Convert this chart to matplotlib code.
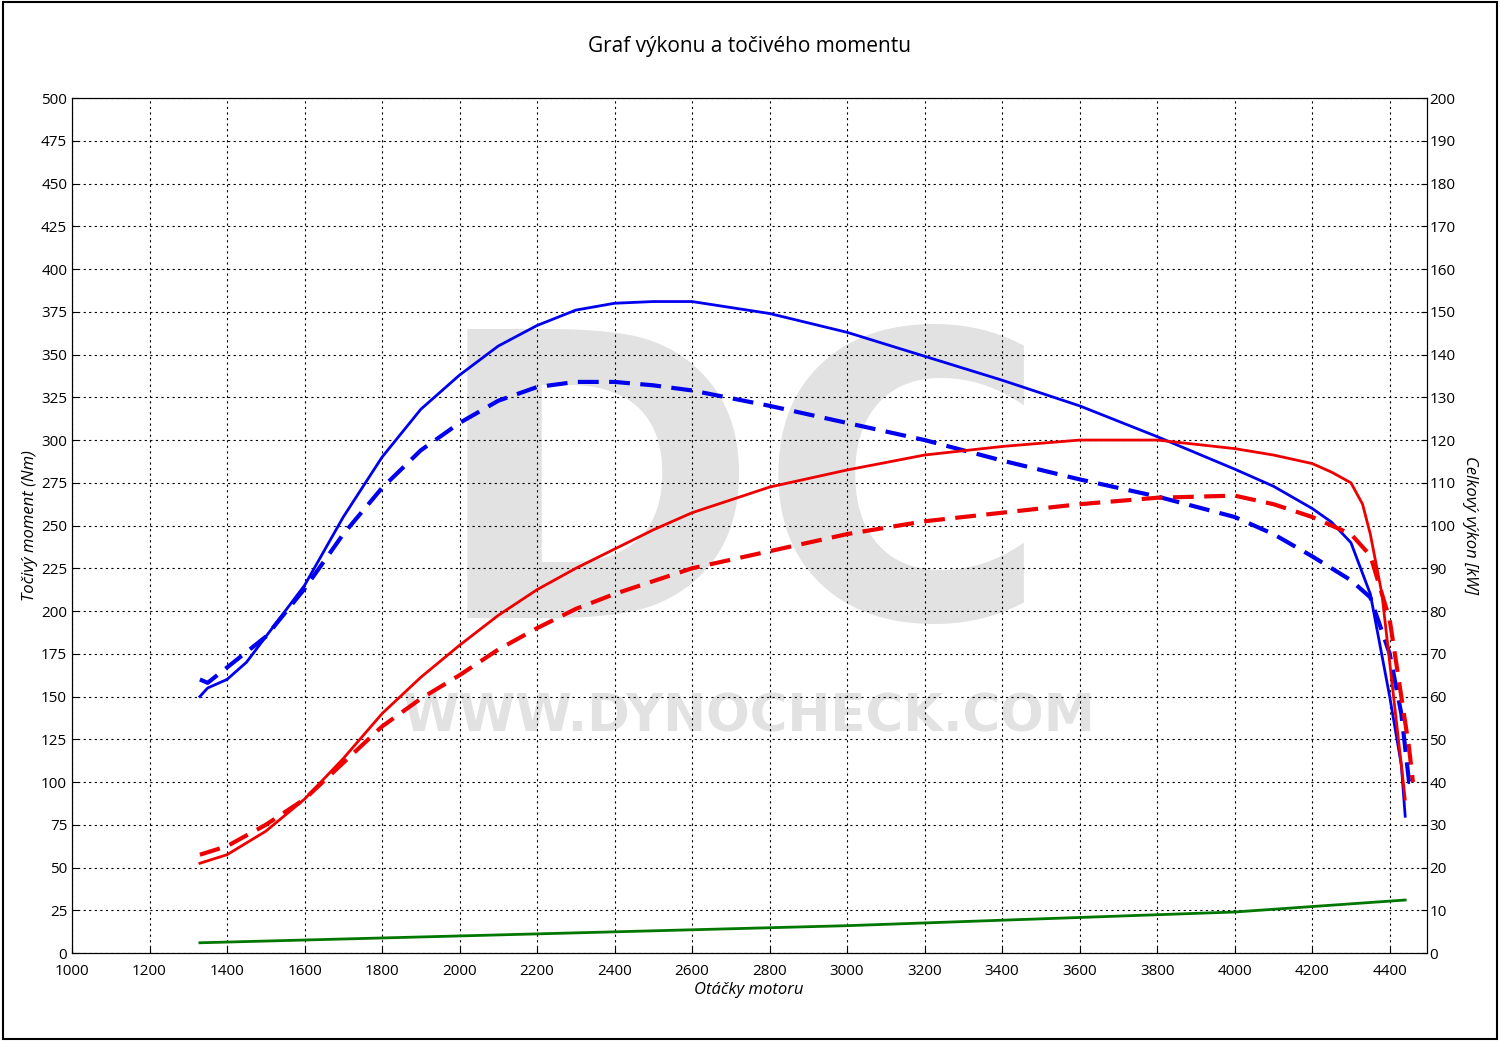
import matplotlib
matplotlib.use("Agg")
import matplotlib.pyplot as plt
from matplotlib.patches import Rectangle

plt.rcParams["font.family"] = ["Open Sans", "DejaVu Sans"]

# torque [Nm], left axis
rpm_tq = [1330, 1350, 1400, 1450, 1500, 1600, 1700, 1800, 1900, 2000, 2100, 2200, 2300, 2400,
          2500, 2600, 2800, 3000, 3200, 3400, 3600, 3800, 4000, 4100, 4200, 4250, 4300, 4350,
          4400, 4430, 4440]
tq_tuned = [150, 155, 160, 170, 185, 215, 255, 290, 318, 338, 355, 367, 376, 380,
            381, 381, 374, 363, 349, 335, 320, 302, 283, 273, 260, 252, 240, 210,
            150, 110, 80]
rpm_tq_s = [1330, 1350, 1400, 1500, 1600, 1700, 1800, 1900, 2000, 2100, 2200, 2300, 2400, 2500,
            2600, 2800, 3000, 3200, 3400, 3600, 3800, 4000, 4100, 4200, 4300, 4350, 4400,
            4430, 4450, 4470]
tq_stock = [160, 158, 167, 185, 213, 245, 272, 294, 310, 323, 331, 334, 334, 332,
            329, 320, 310, 300, 288, 277, 267, 255, 245, 232, 218, 208, 175,
            140, 100, 100]

# power [kW], right axis
rpm_pw = [1330, 1400, 1500, 1600, 1700, 1800, 1900, 2000, 2100, 2200, 2300, 2400, 2500, 2600,
          2800, 3000, 3200, 3400, 3600, 3800, 4000, 4100, 4200, 4250, 4300, 4330, 4350, 4380,
          4410, 4430, 4440]
pw_tuned = [21, 23, 28.5, 36, 45.5, 56, 64.5, 72, 79, 85, 90, 94.5, 99, 103,
            109, 113, 116.5, 118.5, 120, 120, 118, 116.5, 114.5, 112.5, 110, 105, 98, 84,
            60, 44, 36]
rpm_pw_s = [1330, 1400, 1500, 1600, 1700, 1800, 1900, 2000, 2100, 2200, 2300, 2400, 2600,
            2800, 3000, 3200, 3400, 3600, 3800, 4000, 4100, 4200, 4300, 4350, 4400, 4430,
            4450, 4460]
pw_stock = [23, 25, 30, 36, 44.5, 53, 59.5, 65, 71, 76, 80.5, 84, 90,
            94, 98, 101, 103, 105, 106.5, 107, 105, 102, 98, 93, 78, 60,
            48, 40]

# loss curve (left axis)
rpm_loss = [1330, 2000, 3000, 4000, 4440]
loss = [6, 10, 16, 24, 31]

fig = plt.figure(figsize=(15, 10.41), dpi=100)
fig.patches.append(Rectangle((0.002, 0.002), 0.996, 0.996, transform=fig.transFigure,
                             fill=False, edgecolor="black", linewidth=1.5))
ax = fig.add_axes([0.048, 0.0845, 0.903, 0.8213])
ax2 = ax.twinx()

ax.set_xlim(1000, 4495)
ax.set_ylim(0, 500)
ax2.set_ylim(0, 200)
ax.set_xticks(range(1000, 4401, 200))
ax.set_yticks(range(0, 501, 25))
ax2.set_yticks(range(0, 201, 10))
ax.grid(True, color="black", linestyle=(0, (2, 3)), linewidth=0.8)
ax.tick_params(labelsize=11, direction="in", length=4)
ax.tick_params(axis="x", pad=8)
ax2.tick_params(labelsize=11, direction="in", length=4, pad=2)

ax.text(0.493, 0.52, "DC", transform=ax.transAxes, fontsize=285, fontweight="bold",
        family="DejaVu Sans", color="#e2e2e2", ha="center", va="center", zorder=0)
ax.text(0.50, 0.275, "WWW.DYNOCHECK.COM", transform=ax.transAxes, fontsize=37,
        fontweight="bold", family="DejaVu Sans", color="#e2e2e2", ha="center",
        va="center", zorder=0)

ax.plot(rpm_tq, tq_tuned, color="#0000ee", lw=2)
ax.plot(rpm_tq_s, tq_stock, color="#0000ee", lw=3, ls=(0, (5, 2.5)))
ax.plot(rpm_loss, loss, color="#007700", lw=2)
ax2.plot(rpm_pw, pw_tuned, color="#ee0000", lw=2)
ax2.plot(rpm_pw_s, pw_stock, color="#ee0000", lw=3, ls=(0, (5, 2.5)))

ax.set_xlabel("Otáčky motoru", fontsize=12, style="italic", labelpad=2)
ax.set_ylabel("Točivý moment (Nm)", fontsize=12, style="italic", labelpad=2)
ax2.set_ylabel("Celkový výkon [kW]", fontsize=12, style="italic", rotation=-90, labelpad=16)
fig.text(0.5, 0.955, "Graf výkonu a točivého momentu", ha="center", va="center", fontsize=15)

fig.savefig("out.png")
